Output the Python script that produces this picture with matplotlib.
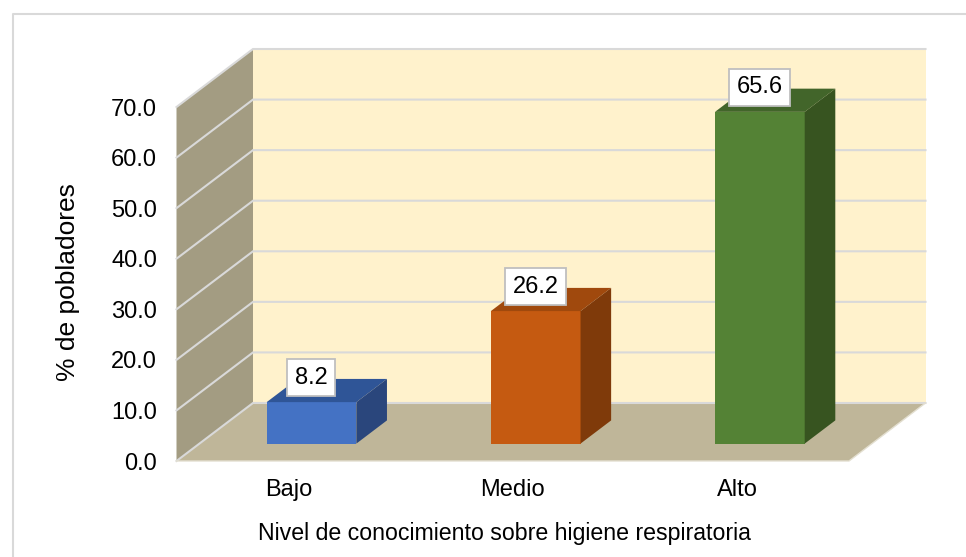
import matplotlib.pyplot as plt
from matplotlib.patches import Polygon

categorias = ["Bajo", "Medio", "Alto"]
valores = [8.2, 26.2, 65.6]
etiquetas_y = [0, 10, 20, 30, 40, 50, 60, 70]
color_frente = ["#4472C4", "#C55A11", "#548235"]
color_arriba = ["#2F5597", "#A0490D", "#42652A"]
color_lado = ["#2A467C", "#7F3A0A", "#375420"]

W, H = 966, 557
plt.rcParams["font.family"] = ["Liberation Sans", "DejaVu Sans"]

fig = plt.figure(figsize=(W / 100, H / 100), dpi=100, facecolor="white")

# marco del grafico: en la imagen solo se ven el borde superior e izquierdo
fig.add_artist(plt.Line2D([12.5 / W, 12.5 / W, 1], [0, 1 - 13.5 / H, 1 - 13.5 / H], transform=fig.transFigure,
                          color="#D9D9D9", linewidth=1.5))

# plano frontal del grafico 3D
x0, x1 = 176.5, 849
y0, y1 = 461, 107
ax = fig.add_axes([x0 / W, 1 - y0 / H, (x1 - x0) / W, (y0 - y1) / H])
ax.set_xlim(-0.5, 2.5)
ax.set_ylim(0, 70)
ax.patch.set_visible(False)
for s in ax.spines.values():
    s.set_visible(False)

# profundidad en unidades de datos
px_x = (x1 - x0) / 3
px_y = (y0 - y1) / 70
prof_x = 76.5 / px_x
prof_y = 58 / px_y


def proy(x, y, d):
    return (x + d * prof_x, y + d * prof_y)


def cara(puntos, color, z, borde="none", lw=0):
    ax.add_patch(Polygon([proy(*p) for p in puntos], closed=True, facecolor=color,
                         edgecolor=borde, linewidth=lw, zorder=z, clip_on=False))


# pared del fondo, lateral y piso
cara([(-0.5, 0, 1), (2.5, 0, 1), (2.5, 70, 1), (-0.5, 70, 1)], "#FFF2CC", 1)
cara([(-0.5, 0, 0), (-0.5, 0, 1), (-0.5, 70, 1), (-0.5, 70, 0)], "#A39C82", 1)
cara([(-0.5, 0, 0), (2.5, 0, 0), (2.5, 0, 1), (-0.5, 0, 1)], "#BFB699", 1.5)

# lineas de cuadricula
for v in etiquetas_y:
    ax.plot(*zip(proy(-0.5, v, 0), proy(-0.5, v, 1), proy(2.5, v, 1)), color="#D9D9D9",
            linewidth=1.5, zorder=2, clip_on=False, solid_joinstyle="miter")
ax.plot(*zip(proy(-0.5, 0, 0), proy(2.5, 0, 0), proy(2.5, 0, 1)), color="#E3DFD0",
        linewidth=1, zorder=2, clip_on=False)

# barras
ancho = 0.4
d1, d2 = 0.3, 0.7
for i, v in enumerate(valores):
    a, b = i - ancho / 2, i + ancho / 2
    cara([(a, 0, d1), (b, 0, d1), (b, v, d1), (a, v, d1)], color_frente[i], 3)
    cara([(a, v, d1), (b, v, d1), (b, v, d2), (a, v, d2)], color_arriba[i], 3)
    cara([(b, 0, d1), (b, 0, d2), (b, v, d2), (b, v, d1)], color_lado[i], 3)
    xt, yt = proy(i, v, 0.5)
    ax.annotate(f"{v:.1f}", (xt, yt), xytext=(-15.5, 13), textcoords="offset pixels", ha="center", va="center",
                fontsize=17, color="black", zorder=5, annotation_clip=False,
                bbox=dict(boxstyle="square,pad=0.32", facecolor="white", edgecolor="#BFBFBF", linewidth=1.3))

ax.set_xticks(range(3))
ax.set_xticklabels(categorias, fontsize=17)
ax.set_yticks(etiquetas_y)
ax.set_yticklabels([f"{v:.1f}" for v in etiquetas_y], fontsize=17)
ax.tick_params(axis="both", length=0)
ax.tick_params(axis="x", pad=13)
ax.tick_params(axis="y", pad=14)
ax.set_xlabel("Nivel de conocimiento sobre higiene respiratoria", fontsize=16.7, labelpad=15, x=0.487)
ax.set_ylabel("% de pobladores", fontsize=19, labelpad=22, y=0.505)

fig.savefig("out.png", dpi=100)
